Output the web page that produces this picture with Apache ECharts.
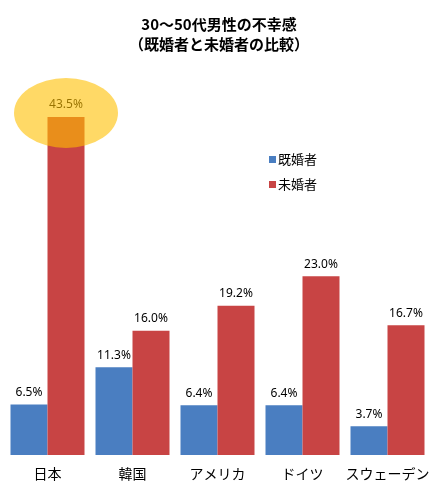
<!DOCTYPE html>
<html>
<head>
<meta charset="utf-8">
<script src="https://cdn.jsdelivr.net/npm/echarts@6/dist/echarts.min.js"></script>
<style>
  html, body { margin: 0; padding: 0; background: #fff; }
  #root { width: 438px; height: 490px; }
</style>
</head>
<body>
<div id="root"></div>
<script>
// データ
var countries = ['日本', '韓国', 'アメリカ', 'ドイツ', 'スウェーデン'];
var married = [6.5, 11.3, 6.4, 6.4, 3.7];
var unmarried = [43.5, 16.0, 19.2, 23.0, 16.7];
var seriesNames = ['既婚者', '未婚者'];

var dom = document.getElementById('root');
var myChart = echarts.init(dom, null, { renderer: 'canvas' });

var labelStyle = {
  show: true,
  position: 'top',
  distance: 6,
  color: '#000',
  fontSize: 12,
  fontFamily: 'Noto Sans',
  formatter: function (p) { return p.value.toFixed(1) + '%'; }
};

var option = {
  animation: false,
  backgroundColor: '#fff',
  title: {
    text: '30～50代男性の不幸感\n（既婚者と未婚者の比較）',
    left: 'center',
    top: 9,
    textStyle: {
      fontSize: 15,
      fontWeight: 'bold',
      fontFamily: 'Noto Sans CJK JP',
      color: '#000',
      lineHeight: 20
    }
  },
  legend: {
    data: seriesNames,
    orient: 'vertical',
    left: 264,
    top: 148,
    itemWidth: 7,
    itemHeight: 7,
    itemGap: 12,
    icon: 'rect',
    textStyle: {
      fontSize: 13,
      fontFamily: 'Noto Sans CJK JP',
      color: '#000',
      padding: [0, 0, 0, -3]
    }
  },
  grid: { left: 5, right: 8, top: 66.5, bottom: 35 },
  xAxis: {
    type: 'category',
    data: countries,
    axisLine: { show: false },
    axisTick: { show: false },
    axisLabel: {
      interval: 0,
      color: '#000',
      fontSize: 14,
      fontFamily: 'Noto Sans CJK JP',
      margin: 12
    }
  },
  yAxis: {
    type: 'value',
    min: 0,
    max: 50,
    show: false,
    splitLine: { show: false }
  },
  series: [
    {
      name: seriesNames[0],
      type: 'bar',
      data: married,
      barWidth: 37,
      barGap: '0%',
      itemStyle: { color: '#4A7EC1' },
      label: labelStyle
    },
    {
      name: seriesNames[1],
      type: 'bar',
      data: unmarried,
      barWidth: 37,
      barGap: '0%',
      itemStyle: { color: '#C84444' },
      label: labelStyle,
      markPoint: {
        symbol: 'circle',
        symbolSize: [104, 70],
        symbolOffset: [0, -4],
        silent: true,
        label: { show: false },
        itemStyle: { color: '#FFC000', opacity: 0.6 },
        data: [{ coord: [countries[0], unmarried[0]] }]
      }
    }
  ]
};

myChart.setOption(option);
</script>
</body>
</html>
